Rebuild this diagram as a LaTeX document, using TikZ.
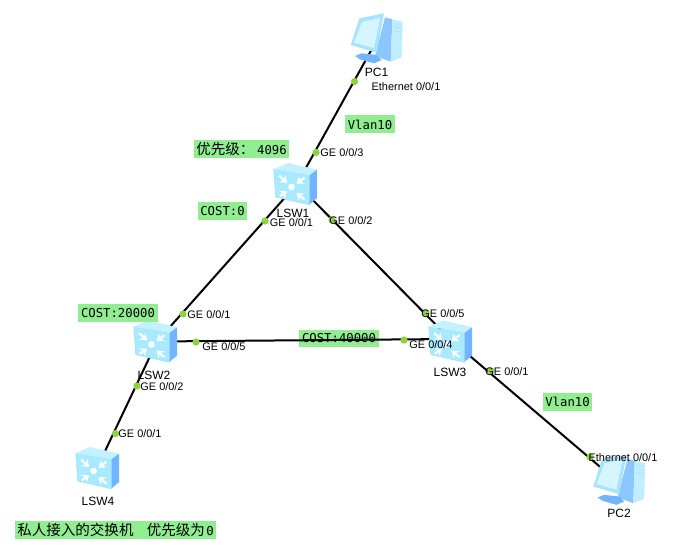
\documentclass[tikz,border=0pt]{standalone}
\usepackage{fontspec}
\setmainfont{Liberation Sans}
\newfontfamily\cjkfont{Noto Sans CJK SC}
\newfontfamily\monofont{DejaVu Sans Mono}
\newcommand{\cjkbig}[1]{{\fontsize{10.9pt}{11pt}\cjkfont #1}}
\usetikzlibrary{arrows.meta}
\definecolor{lab}{HTML}{90EE90}
\definecolor{dotg}{HTML}{8CD241}
\definecolor{ice}{HTML}{A8EAFF}
\definecolor{icetop}{HTML}{C4F1FF}
\definecolor{sideb}{HTML}{72B4FF}
\definecolor{frame}{HTML}{A8E4FF}
\definecolor{towerside}{HTML}{8CC6FF}
\definecolor{towerfront}{HTML}{C0EDFF}
\tikzset{
  x=0.75pt,y=-0.75pt,
  dev/.style={inner sep=0pt,minimum width=32pt,minimum height=32pt},
  link/.style={line width=1.5pt,black},
  port/.style={circle,fill=dotg,inner sep=0pt,minimum size=5.4pt},
  txt/.style={inner sep=0pt,font=\fontsize{8.2pt}{9pt}\selectfont,text=black},
  devtxt/.style={inner sep=0pt,font=\fontsize{9pt}{10pt}\selectfont,text=black},
  note/.style={fill=lab,inner sep=0pt,anchor=center,text=black,font=\fontsize{9.2pt}{10pt}\monofont},
  pics/swicon/.style={code={
    \begin{scope}[x=0.25pt,y=-0.25pt,shift={(-107,-553)}]
      \fill[icetop] (42,508)--(85,490)--(172,510)--(148,528)--cycle;
      \fill[sideb] (148,528)--(172,510)--(172,595)--(148,615)--cycle;
      \fill[ice,draw=frame,line width=.6pt] (42,510)--(148,528)--(148,615)--(48,592)--cycle;
      \fill[white] (95,562) circle (10);
      \foreach \a/\b/\c/\d in {58/528/82/550, 134/534/110/552, 60/590/82/574, 134/600/110/580}{
        \draw[white,line width=1.6pt,-{Stealth[length=5pt,width=7pt]}] (\a,\b)--(\c,\d);
      }
    \end{scope}}},
  pics/pcicon/.style={code={
    \begin{scope}[x=0.25pt,y=-0.25pt,shift={(-349.5,-114)}]
      \fill[towerside] (375,52)--(397,58)--(392,185)--(345,168)--cycle;
      \fill[towerfront] (397,58)--(428,65)--(425,172)--(392,185)--cycle;
      \draw[frame,line width=.5pt] (402,70)--(424,75) (402,80)--(424,85) (402,92)--(424,97);
      \fill[sideb] (285,168)--(305,160)--(350,165)--(365,180)--(342,190)--(300,178)--cycle;
      \fill[frame] (272,135)--(298,55)--(372,40)--(350,158)--cycle;
      \fill[icetop!70!white] (282,128)--(306,66)--(360,54)--(342,144)--cycle;
    \end{scope}}}
}
\begin{document}
\begin{tikzpicture}
\useasboundingbox (0,0) rectangle (692,545);
\fill[white] (0,0) rectangle (692,545);
% device anchors
\node[dev] (pc1) at (378,38) {};
\node[dev] (lsw1) at (297,184) {};
\node[dev] (lsw2) at (157,341.5) {};
\node[dev] (lsw3) at (450,339) {};
\node[dev] (lsw4) at (97,468) {};
\node[dev] (pc2) at (619,483) {};
% note crossed by a link
\node[note,minimum width=60pt,minimum height=13.2pt] (n40k) at (339,338.5) {COST:40000};
% links
\draw[link] (pc1.center) -- (lsw1.center);
\draw[link] (lsw1.center) -- (lsw2.center);
\draw[link] (lsw1.center) -- (lsw3.center);
\draw[link] (lsw2.center) -- (lsw3.center);
\draw[link] (lsw3.center) -- (pc2.center);
\draw[link] (lsw2.center) -- (lsw4.center);
% icons
\pic at (376.5,38) {pcicon};
\pic at (295.5,184) {swicon};
\pic at (155.5,341.5) {swicon};
\pic at (450.5,341.5) {swicon};
\pic at (97.5,468) {swicon};
\pic at (619,479.5) {pcicon};
% port dots
\node[port] (p1) at (354.5,81.5) {};
\node[port] (p2) at (316,152.5) {};
\node[port] (p3) at (265,221) {};
\node[port] (p4) at (332,220) {};
\node[port] (p5) at (183,314) {};
\node[port] (p6) at (196,342) {};
\node[port] (p7) at (137,386) {};
\node[port] (p8) at (115.5,433.5) {};
\node[port] (p9) at (426,313) {};
\node[port] (p10) at (404,340) {};
\node[port] (p11) at (491,371) {};
\node[port] (p12) at (590,457) {};
% device labels
\node[devtxt] (t1) at (376.5,72) {PC1};
\node[txt] (t2) at (406,87) {Ethernet 0/0/1};
\node[txt] (t3) at (342,153) {GE 0/0/3};
\node[devtxt] (t4) at (293,213) {LSW1};
\node[txt] (t5) at (291.5,222.5) {GE 0/0/1};
\node[txt] (t6) at (351,220.5) {GE 0/0/2};
\node[txt] (t7) at (209,315) {GE 0/0/1};
\node[txt] (t8) at (224,347) {GE 0/0/5};
\node[devtxt] (t9) at (154,375.5) {LSW2};
\node[txt] (t10) at (162,387) {GE 0/0/2};
\node[txt] (t11) at (140,434) {GE 0/0/1};
\node[devtxt] (t12) at (98,501.5) {LSW4};
\node[txt] (t13) at (443,314) {GE 0/0/5};
\node[txt] (t14) at (431,345) {GE 0/0/4};
\node[devtxt] (t15) at (450,372) {LSW3};
\node[txt] (t16) at (507,371.5) {GE 0/0/1};
\node[txt] (t17) at (623,458) {Ethernet 0/0/1};
\node[devtxt] (t18) at (619,513.5) {PC2};
% notes
\node[note,minimum width=37.5pt,minimum height=13.5pt] (n1) at (370,124.5) {Vlan10};
\node[note,minimum width=71pt,minimum height=13.5pt] (n2) at (241.5,149) {\cjkbig{优先级：}\hspace{2pt}4096};
\node[note,minimum width=37pt,minimum height=13pt] (n3) at (222.5,211) {COST:0};
\node[note,minimum width=60pt,minimum height=13.5pt] (n4) at (118,313) {COST:20000};
\node[note,minimum width=37pt,minimum height=13.5pt] (n5) at (567.5,402) {Vlan10};
\node[note,minimum width=151pt,minimum height=13.5pt] (n6) at (115.5,530) {\cjkbig{私人接入的交换机\hspace{10pt}优先级为}\hspace{1pt}0};
\end{tikzpicture}
\end{document}
